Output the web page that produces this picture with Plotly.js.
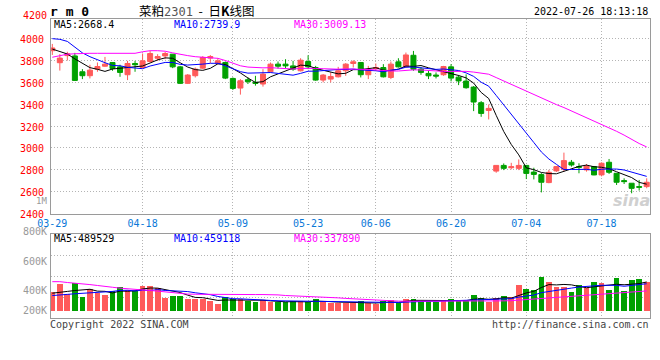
<!DOCTYPE html>
<html><head><meta charset="utf-8">
<script src="https://cdn.plot.ly/plotly-3.0.1.min.js"></script>
<style>html,body{margin:0;padding:0;background:#fff}#chart{width:660px;height:360px}</style>
</head><body><div id="chart"></div>
<script>
// ---- data ----
const dates = ["03-29","03-30","03-31","04-01","04-06","04-07","04-08","04-11","04-12","04-13","04-14","04-15",
"04-18","04-19","04-20","04-21","04-22","04-25","04-26","04-27","04-28","04-29","05-05","05-06",
"05-09","05-10","05-11","05-12","05-13","05-16","05-17","05-18","05-19","05-20",
"05-23","05-24","05-25","05-26","05-27","05-30","05-31","06-01","06-02",
"06-06","06-07","06-08","06-09","06-10","06-13","06-14","06-15","06-16","06-17",
"06-20","06-21","06-22","06-23","06-24","06-27","06-28","06-29","06-30","07-01",
"07-04","07-05","07-06","07-07","07-08","07-11","07-12","07-13","07-14","07-15",
"07-18","07-19","07-20","07-21","07-22","07-25","07-26"];
const open  = [3890,3780,3845,3842,3697,3661,3721,3748,3782,3742,3670,3773,3736,3791,3821,3842,3858,3742,3591,3661,
3730,3822,3775,3782,3636,3548,3624,3600,3585,3697,3767,3767,3751,3706,3791,3736,3621,3630,3651,3706,
3773,3782,3670,3727,3736,3645,3788,3742,3848,3721,3682,3667,3670,3742,3648,3612,3557,3414,3343,2788,
2840,2819,2813,2840,2779,2756,2683,2790,2805,2869,2829,2799,2829,2753,2869,2768,2701,2677,2646,2646];
const high  = [3952,3858,3880,3870,3721,3761,3782,3833,3785,3761,3797,3797,3864,3888,3858,3879,3858,3751,3676,3736,
3840,3850,3822,3791,3645,3630,3645,3660,3721,3782,3791,3812,3797,3821,3848,3751,3676,3691,3742,3776,
3803,3785,3751,3773,3767,3791,3821,3873,3888,3742,3706,3691,3751,3767,3668,3673,3566,3429,3398,2840,
2858,2864,2895,2843,2819,2770,2799,2835,2957,2890,2860,2853,2835,2868,2899,2768,2722,2677,2707,2722];
const low   = [3851,3708,3800,3615,3630,3636,3697,3742,3706,3651,3621,3697,3727,3782,3797,3812,3730,3585,3585,3645,
3720,3776,3762,3630,3530,3488,3585,3570,3561,3691,3727,3730,3706,3700,3721,3615,3600,3600,3645,3660,
3736,3645,3630,3706,3645,3630,3736,3736,3706,3670,3630,3636,3660,3609,3575,3542,3337,3285,3261,2773,
2797,2804,2797,2715,2712,2593,2677,2780,2783,2829,2768,2783,2750,2740,2762,2661,2670,2585,2610,2631];
const close = [3915,3822,3862,3618,3661,3712,3745,3767,3727,3691,3773,3761,3797,3864,3836,3864,3742,3591,3667,3721,
3828,3836,3797,3639,3545,3615,3606,3591,3676,3767,3748,3751,3721,3803,3742,3621,3667,3654,3706,3767,
3788,3670,3712,3736,3651,3767,3742,3851,3721,3691,3660,3658,3745,3639,3613,3551,3420,3316,3362,2840,
2813,2828,2840,2767,2758,2686,2777,2829,2884,2844,2823,2835,2753,2860,2777,2686,2692,2630,2640,2686];
const ma5  = [3905,3885,3860,3815,3775.6,3735,3719.6,3700.6,3722.4,3728.4,3740.6,3743.8,3749.8,3777.2,3806.2,3824.4,3820.6,3779.4,3740,3717,
3709.8,3728.6,3769.8,3764.2,3729,3686.4,3640.4,3599.2,3606.6,3651,3677.6,3706.6,3732.6,3758,3753,3727.6,3710.8,3697.4,3678,3683,
3716.4,3717,3728.6,3734.6,3711.4,3707.2,3721.6,3749.4,3746.4,3754.4,3733,3716.2,3695,3678.6,3663,3641.2,3593.6,3507.8,3452.4,3297.8,
3150.2,3031.8,2936.6,2817.6,2801.2,2775.8,2765.6,2763.4,2786.8,2804,2831.4,2843,2827.8,2823,2809.6,2782.2,2753.6,2729,2685,2668.4];
const ma10 = [4000,3994,3975,3925,3870,3835,3805,3780,3755,3752,3737.8,3731.7,3725.2,3749.8,3767.3,3782.5,3782.2,3764.6,3758.6,3761.6,
3767.1,3774.6,3774.6,3752.1,3723,3698.1,3684.5,3684.5,3685.4,3690,3682,3673.5,3665.9,3682.3,3702,3702.6,3708.7,3715,3718,3718,
3722,3713.9,3713,3706.3,3697.2,3711.8,3719.3,3739,3740.5,3732.9,3720.1,3718.9,3722.2,3712.5,3708.7,3687.1,3654.9,3601.4,3565.5,3480.4,
3395.7,3312.7,3222.2,3135,3049.5,2963,2898.7,2850,2802.2,2802.6,2803.6,2804.3,2795.6,2804.9,2806.8,2806.8,2798.3,2778.4,2754,2739.9];
const ma30 = [3830,3845,3858,3862,3866,3866,3866,3866,3866,3866,3866,3866,3880,3890,3890,3885,3870,3855,3845,3835,
3830,3830,3820,3800,3775,3752,3740,3735,3733,3734.5,3729,3726.6,3721.9,3728.1,3730.8,3727.7,3725.1,3721.4,3720.7,3723.2,
3723.7,3720.7,3717.8,3713.6,3707.4,3704.2,3704.2,3712.8,3714.6,3713.6,3708,3702.1,3700.4,3700.4,3702.6,3700.5,3694.3,3685.1,3674.7,3643.8,
3612.6,3581.8,3552.5,3517.9,3485.1,3454,3424.3,3396.8,3369.4,3338.6,3306.5,3278.6,3246.7,3217.5,3188.3,3152.3,3117.3,3076.6,3040.6,3009.13];
// volume, thousands of lots
const vol = [326,455,286,477,241,371,298,270,337,404,354,337,421,421,393,225,258,258,202,202,
202,168,118,236,202,202,168,157,180,146,146,146,168,168,146,202,146,129,129,129,
129,174,129,112,168,185,140,202,202,168,168,157,168,202,180,168,270,213,157,219,
253,241,438,371,354,573,489,410,410,320,438,382,489,472,354,556,337,522,539,489];
const vma5 = [300,320,330,345,357,366,334.6,331.4,303.4,336,332.6,340.4,370.6,387.4,385.2,359.4,343.6,311,267.2,229,
224.4,206.4,178.4,185.2,185.2,185.2,185.2,193,181.8,170.6,159.4,155,157.2,154.8,154.8,166,166,158.2,150.4,147,
132.4,138,138,134.6,142.4,153.6,146.8,161.4,179.4,179.4,176,179.4,172.6,172.6,175,175,197.6,206.6,197.6,205.4,
222.4,216.6,261.6,304.4,331.4,395.4,445,439.4,447.2,440.4,413.4,392,407.8,420.2,427,450.6,441.6,448.2,461.6,489.529];
const vma10 = [260,265,280,290,298,300,305,315,330,346.5,349.3,337.5,351,345.4,360.6,346,342,340.8,327.3,307.1,
291.9,275,244.7,226.2,207.1,204.8,195.8,185.7,183.5,177.9,172.3,170.1,175.1,168.3,162.7,162.7,160.5,157.7,152.6,150.9,
149.2,152,148.1,142.5,144.7,143,142.4,149.7,157,160.9,164.8,163.1,167,176,177.2,175.5,188.5,189.6,185.1,190.2,
198.7,207.1,234.1,251,268.4,308.9,330.8,350.5,375.8,385.9,404.4,418.5,423.6,433.7,433.7,432,416.8,428,440.9,459.118];
const vma30 = [494,494,480,472,460,445,430,410,400,385,372,362,355,345,335,322,305,292,285,282,
280,279,278,278,277,277,277,277,277,277.2,271.2,260.9,256.9,246.6,243.5,237.8,232.8,228.1,221.1,212,
204.5,199,189.3,179,171.5,170.2,166.2,164.4,164.4,163.2,162.1,161.7,163.4,162.3,161.5,160.4,163.8,165.7,164.9,167.3,
170.9,174.1,183.1,189.8,196.8,209.1,220.6,229.9,239.3,245.7,256,262.9,274.9,286.9,293.1,305.5,312,322.7,333.9,337.89];
const priceTicks = [2400,2600,2800,3000,3200,3400,3600,3800,4000];
const dateTicks = ["03-29","04-18","05-09","05-23","06-06","06-20","07-04","07-18"];
const volLabels = ["1M","800K","600K","400K","200K"];
const legendMain = ["MA5:2668.4","MA10:2739.9","MA30:3009.13"];
const legendVol  = ["MA5:489529","MA10:459118","MA30:337890"];

// ---- drawing ----
const idx = dates.map((d,i)=>i);
const tickIdx = dateTicks.map(d=>dates.indexOf(d));
const RED='#ff5a5a', GREEN='#00a000', GRID='#b4b4b4', FRAME='#9a9a9a';
const MONO='DejaVu Sans Mono';
const NB='\u00a0';
const px = x => (x-51)/599, py = y => 1 - y/360;
const xr = [-0.173, 79.44];
const vr = [-123, 1292];
const volColors = idx.map(i => close[i] >= open[i] ? RED : GREEN);

const traces = [
 {type:'candlestick', x:idx, open:open, high:high, low:low, close:close, xaxis:'x', yaxis:'y',
  increasing:{line:{color:RED,width:1},fillcolor:RED}, decreasing:{line:{color:GREEN,width:1},fillcolor:GREEN},
  whiskerwidth:0, hoverinfo:'skip', showlegend:false},
 {type:'scatter', mode:'lines', x:idx, y:ma5, line:{color:'#000000',width:1}, xaxis:'x', yaxis:'y', hoverinfo:'skip'},
 {type:'scatter', mode:'lines', x:idx, y:ma10, line:{color:'#0000ff',width:1}, xaxis:'x', yaxis:'y', hoverinfo:'skip'},
 {type:'scatter', mode:'lines', x:idx, y:ma30, line:{color:'#ff00ff',width:1}, xaxis:'x', yaxis:'y', hoverinfo:'skip'},
 {type:'bar', x:idx, y:vol, width:0.76, marker:{color:volColors, line:{width:0}}, xaxis:'x2', yaxis:'y2', hoverinfo:'skip'},
 {type:'scatter', mode:'lines', x:idx, y:vma5, line:{color:'#000000',width:1}, xaxis:'x2', yaxis:'y2', hoverinfo:'skip'},
 {type:'scatter', mode:'lines', x:idx, y:vma10, line:{color:'#0000ff',width:1}, xaxis:'x2', yaxis:'y2', hoverinfo:'skip'},
 {type:'scatter', mode:'lines', x:idx, y:vma30, line:{color:'#ff00ff',width:1}, xaxis:'x2', yaxis:'y2', hoverinfo:'skip'}
];

const minorGrid = {tickvals: tickIdx.slice(1), showgrid:true, gridcolor:GRID, gridwidth:1, griddash:'1px,2px', ticks:''};
const ann = [];
function A(text, x, y, xanchor, color, size, extra){
  ann.push(Object.assign({text:text, xref:'paper', yref:'paper', x:px(x), y:py(y), xanchor:xanchor, yanchor:'middle',
    showarrow:false, borderpad:0, borderwidth:0, font:{family:MONO, size:size, color:color}}, extra||{}));
}
A('<b>r m 0</b>', 50, 12, 'left', '#000', 13);
A('菜粕<span style="color:#555;font-family:DejaVu Sans Mono;font-size:12px">2301</span>'+NB+NB+'-'+NB+NB+'日<b>K</b>线图', 139, 10, 'left', '#000', 12.5, {font:{family:'Noto Sans CJK SC', size:12.5, color:'#000'}});
A('2022-07-26 18:13:18', 648, 12, 'right', '#000', 10);
A('4200', 47, 15.5, 'right', '#ff0000', 10);
A(legendMain[0], 54, 24.5, 'left', '#000', 10);
A(legendMain[1], 174, 24.5, 'left', '#0000ff', 10);
A(legendMain[2], 294, 24.5, 'left', '#ff00ff', 10);
A(legendVol[0], 54, 238.5, 'left', '#000', 10);
A(legendVol[1], 174, 238.5, 'left', '#0000ff', 10);
A(legendVol[2], 294, 238.5, 'left', '#ff00ff', 10);
const volLabelY = [201, 231, 261, 290, 310.5];
const volLabelSize = [9, 10, 10, 10, 10];
volLabels.forEach((t,k)=>A(t, 47, volLabelY[k], 'right', '#999999', volLabelSize[k]));
A('Copyright 2022 SINA.COM', 50, 324, 'left', '#444444', 10);
A('http://finance.sina.com.cn', 649, 324, 'right', '#444444', 10);
A('<b><i>sina</i></b>', 650, 200, 'right', '#cfcfcf', 16, {font:{family:'DejaVu Sans', size:16, color:'#d0d0d0'}});

const layout = {
  width:660, height:360, margin:{l:51, r:10, t:0, b:0}, paper_bgcolor:'#fff', plot_bgcolor:'#fff',
  showlegend:false, boxgap:0.335, boxgroupgap:0, bargap:0,
  xaxis:{domain:[0,1], anchor:'y', range:xr, tickvals:tickIdx, ticktext:dateTicks, ticks:'', showgrid:false,
    minor:minorGrid, zeroline:false, showline:true, mirror:true, linecolor:FRAME, linewidth:1,
    tickfont:{family:MONO, size:10, color:'#0a78d8'}, ticklabelstandoff:0, rangeslider:{visible:false}, fixedrange:true},
  yaxis:{domain:[py(213.5), py(19)], anchor:'x', range:[2400,4180], tickvals:priceTicks, ticks:'',
    showgrid:true, gridcolor:GRID, griddash:'1px,2px', zeroline:false, showline:true, mirror:true, linecolor:FRAME,
    tickfont:{family:MONO, size:10, color:'#ff0000'}, ticklabelstandoff:4, ticklabelshift:1, fixedrange:true},
  xaxis2:{domain:[0,1], anchor:'y2', range:xr, showticklabels:false, ticks:'', showgrid:false,
    minor:minorGrid, zeroline:false, showline:true, mirror:true, linecolor:FRAME, fixedrange:true},
  yaxis2:{domain:[py(318.3), py(234.3)], anchor:'x2', range:vr, tickmode:'linear', tick0:vr[0], dtick:(vr[1]-vr[0])/4,
    showticklabels:false, ticks:'', showgrid:true, gridcolor:GRID, griddash:'1px,2px', zeroline:false,
    showline:true, mirror:true, linecolor:FRAME, fixedrange:true},
  annotations:ann
};
Plotly.newPlot('chart', traces, layout, {staticPlot:true, displayModeBar:false});
</script></body></html>
